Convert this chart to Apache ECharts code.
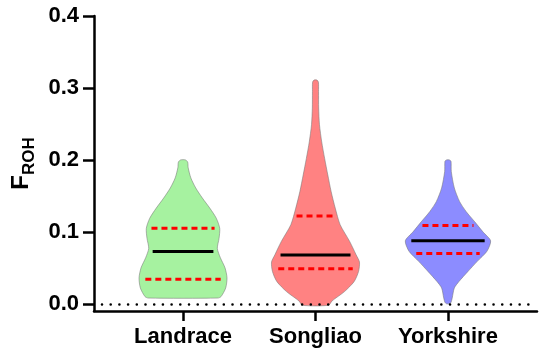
<!DOCTYPE html>
<html>
<head>
<meta charset="utf-8">
<script src="https://cdn.jsdelivr.net/npm/echarts@6/dist/echarts.min.js"></script>
<style>html,body{margin:0;padding:0;background:#fff}#c{width:550px;height:360px}</style>
</head>
<body>
<div id="c"></div>
<script>
// ---- data ----
const categories = ['Landrace', 'Songliao', 'Yorkshire'];
const yTicks = [0, 0.1, 0.2, 0.3, 0.4];
const colors = ['#A6F2A0', '#FF8282', '#8C8CFF'];

// violin profiles: F_ROH values and density half-widths (in category units)
const landraceY = [0.008, 0.010, 0.022, 0.036, 0.050, 0.064, 0.077, 0.091, 0.105, 0.119, 0.133, 0.147, 0.161, 0.175, 0.189, 0.197, 0.200];
const landraceW = [0.262, 0.287, 0.322, 0.332, 0.317, 0.282, 0.259, 0.272, 0.277, 0.251, 0.202, 0.146, 0.096, 0.059, 0.039, 0.035, 0.018];
const songliaoY = [-0.002, 0.004, 0.017, 0.031, 0.045, 0.058, 0.068, 0.087, 0.110, 0.133, 0.156, 0.179, 0.202, 0.225, 0.249, 0.272, 0.295, 0.308, 0.311];
const songliaoW = [0.098, 0.125, 0.219, 0.292, 0.325, 0.332, 0.307, 0.257, 0.186, 0.149, 0.118, 0.093, 0.069, 0.047, 0.030, 0.024, 0.023, 0.022, 0.011];
const yorkshireY = [0.000, 0.002, 0.008, 0.022, 0.031, 0.045, 0.059, 0.073, 0.0875, 0.100, 0.114, 0.128, 0.142, 0.161, 0.184, 0.198, 0.200];
const yorkshireW = [0.011, 0.023, 0.032, 0.048, 0.083, 0.151, 0.221, 0.294, 0.322, 0.264, 0.202, 0.138, 0.088, 0.048, 0.025, 0.023, 0.011];

// quartiles [Q1, median, Q3]
const landraceQ = [0.0343, 0.0727, 0.105];
const songliaoQ = [0.0486, 0.068, 0.122];
const yorkshireQ = [0.070, 0.0875, 0.109];

const profY = [landraceY, songliaoY, yorkshireY];
const profW = [landraceW, songliaoW, yorkshireW];
const quart = [landraceQ, songliaoQ, yorkshireQ];

function interp(ys, ws, v) {
  for (let k = 0; k < ys.length - 1; k++) {
    if (v >= ys[k] && v <= ys[k + 1]) {
      const t = (v - ys[k]) / (ys[k + 1] - ys[k]);
      return ws[k] + t * (ws[k + 1] - ws[k]);
    }
  }
  return 0;
}

function renderItem(params, api) {
  const i = params.dataIndex;
  const ys = profY[i], ws = profW[i];
  const pts = [];
  for (let k = 0; k < ys.length; k++) pts.push(api.coord([i + ws[k], ys[k]]));
  for (let k = ys.length - 1; k >= 0; k--) pts.push(api.coord([i - ws[k], ys[k]]));
  const children = [{
    type: 'polygon',
    shape: { points: pts, smooth: 0.25 },
    style: { fill: colors[i], stroke: 'rgba(120,120,120,0.7)', lineWidth: 0.8 }
  }];
  quart[i].forEach(function (q, j) {
    const hw = interp(ys, ws, q) * 0.86;
    const a = api.coord([i - hw, q]);
    const b = api.coord([i + hw, q]);
    children.push({
      type: 'line',
      shape: { x1: a[0], y1: a[1], x2: b[0], y2: b[1] },
      style: j === 1
        ? { stroke: '#000', lineWidth: 3 }
        : { stroke: '#FF0000', lineWidth: 3, lineDash: [6, 4] }
    });
  });
  return { type: 'group', children: children };
}

const font = 'Liberation Sans, Arial, Helvetica, sans-serif';
const chart = echarts.init(document.getElementById('c'), null, { renderer: 'canvas' });
chart.setOption({
  animation: false,
  backgroundColor: '#fff',
  grid: { left: 94, right: 13, top: 16, bottom: 49 },
  xAxis: {
    type: 'value',
    min: -0.672, max: 2.672,
    splitLine: { show: false },
    axisLine: { show: true, onZero: false, lineStyle: { color: '#000', width: 2.5 } },
    axisTick: { show: true, customValues: [0, 1, 2], length: 10, lineStyle: { color: '#000', width: 2.5 } },
    axisLabel: {
      customValues: [0, 1, 2],
      formatter: function (v) { return categories[Math.round(v)]; },
      color: '#000', fontFamily: font, fontWeight: 'bold', fontSize: 22, margin: 15
    }
  },
  yAxis: {
    type: 'value',
    min: -0.01, max: 0.4,
    splitLine: { show: false },
    axisLine: { show: true, onZero: false, lineStyle: { color: '#000', width: 2.5 } },
    axisTick: { show: true, customValues: yTicks, length: 11, lineStyle: { color: '#000', width: 2.5 } },
    axisLabel: {
      customValues: yTicks,
      formatter: function (v) { return v.toFixed(1); },
      color: '#000', fontFamily: font, fontWeight: 'bold', fontSize: 22, margin: 15
    },
    name: '{f|F}{s|ROH}',
    nameLocation: 'middle',
    nameGap: 52,
    nameRotate: 90,
    nameTextStyle: {
      rich: {
        f: { fontFamily: font, fontWeight: 'bold', fontSize: 24, color: '#000', lineHeight: 24, verticalAlign: 'bottom' },
        s: { fontFamily: font, fontWeight: 'bold', fontSize: 17, color: '#000', lineHeight: 17, verticalAlign: 'bottom', padding: [0, 0, -4, 0] }
      }
    }
  },
  series: [
    {
      type: 'line',
      data: [],
      z: 1,
      markLine: {
        silent: true,
        symbol: 'none',
        label: { show: false },
        lineStyle: { color: '#000', width: 2.6, type: [0.001, 8.7], cap: 'round', dashOffset: -8 },
        data: [{ yAxis: 0 }]
      }
    },
    {
      type: 'custom',
      z: 3,
      renderItem: renderItem,
      data: [[0, 0.2], [1, 0.311], [2, 0.2]]
    }
  ]
});
</script>
</body>
</html>
